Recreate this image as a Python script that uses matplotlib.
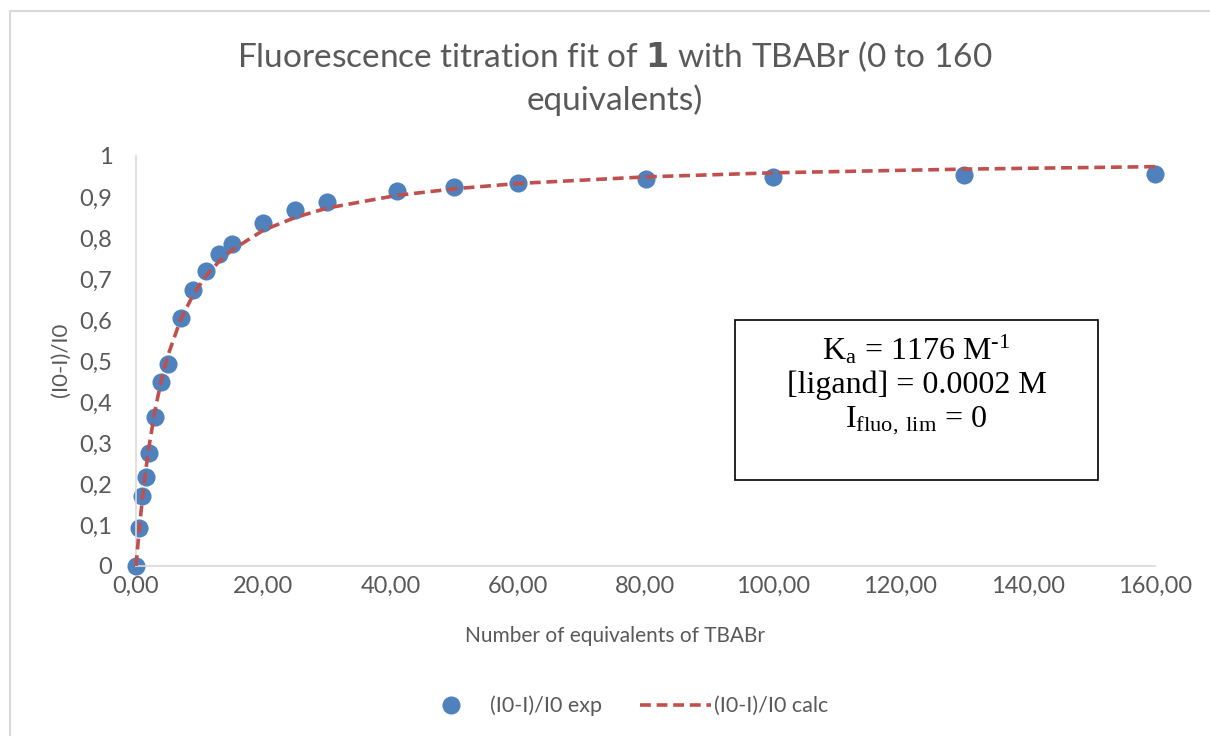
import matplotlib
matplotlib.use("Agg")
import matplotlib.pyplot as plt
from matplotlib.lines import Line2D

# equivalents of TBABr added
equiv = [0, 0.5, 1, 1.5, 2, 3, 4, 5, 7, 9, 11, 13, 15, 20, 25, 30, 41, 50, 60, 80, 100, 130, 160]
# experimental (I0-I)/I0
ratio_exp = [0.0, 0.093, 0.170, 0.218, 0.275, 0.364, 0.450, 0.493, 0.604, 0.673, 0.720,
             0.761, 0.785, 0.837, 0.868, 0.889, 0.915, 0.924, 0.934, 0.944, 0.949, 0.954, 0.956]
# fitted (I0-I)/I0
ratio_calc = [0.0, 0.088, 0.164, 0.230, 0.287, 0.381, 0.455, 0.513, 0.601, 0.662, 0.708,
              0.742, 0.770, 0.819, 0.850, 0.873, 0.904, 0.920, 0.933, 0.949, 0.959, 0.968, 0.974]

x_ticks = [0, 20, 40, 60, 80, 100, 120, 140, 160]
x_ticklabels = ["0,00", "20,00", "40,00", "60,00", "80,00", "100,00", "120,00", "140,00", "160,00"]
y_ticks = [0, 0.1, 0.2, 0.3, 0.4, 0.5, 0.6, 0.7, 0.8, 0.9, 1.0]
y_ticklabels = ["0", "0,1", "0,2", "0,3", "0,4", "0,5", "0,6", "0,7", "0,8", "0,9", "1"]

grey = "#595959"
sans = "Lato"
plt.rcParams["mathtext.default"] = "regular"

fig = plt.figure(figsize=(12.1, 7.36), dpi=100)
ax = fig.add_axes([136 / 1210, 1 - 566 / 736, (1155 - 136) / 1210, (566 - 156) / 736])

ax.plot(equiv, ratio_calc, ls=(0, (3, 1.6)), color="#c0504d", lw=2.6, zorder=3, clip_on=False)
ax.scatter(equiv, ratio_exp, s=170, color="#4f81bd", zorder=2, linewidths=0, clip_on=False)

ax.set_xlim(0, 160)
ax.set_ylim(0, 1)
ax.set_xticks(x_ticks)
ax.set_xticklabels(x_ticklabels)
ax.set_yticks(y_ticks)
ax.set_yticklabels(y_ticklabels)
ax.tick_params(length=0, labelsize=17, labelcolor=grey)
ax.tick_params(axis="x", pad=7)
ax.tick_params(axis="y", pad=17)
for lab in ax.get_xticklabels() + ax.get_yticklabels():
    lab.set_family(sans)
for side in ["top", "right"]:
    ax.spines[side].set_visible(False)
for side in ["left", "bottom"]:
    ax.spines[side].set_color("#d9d9d9")
    ax.spines[side].set_linewidth(1.2)

ax.set_xlabel("Number of equivalents of TBABr", fontsize=15, color=grey, family=sans)
ax.xaxis.set_label_coords((615 - 136) / (1155 - 136), -(626 - 566) / (566 - 156))
ax.set_ylabel("(I0-I)/I0", fontsize=16, color=grey, family=sans)
ax.yaxis.set_label_coords(-(136 - 71) / (1155 - 136), (566 - 360) / (566 - 156))

# title with bold "1"
fig.text(0.508, 1 - 57 / 736, r"Fluorescence titration fit of $\mathbf{1}$ with TBABr (0 to 160",
         ha="center", va="center", fontsize=24, color=grey, family=sans)
fig.text(0.508, 1 - 100 / 736, "equivalents)", ha="center", va="center", fontsize=24,
         color=grey, family=sans)

# annotation box
box_x0, box_y0, box_x1, box_y1 = 735, 320, 1098, 480
fig.patches.append(plt.Rectangle((box_x0 / 1210, 1 - box_y1 / 736), (box_x1 - box_x0) / 1210,
                                 (box_y1 - box_y0) / 736, transform=fig.transFigure,
                                 fill=False, edgecolor="black", lw=1.2))
serif = "Liberation Serif"
cx = (box_x0 + box_x1) / 2 / 1210
fig.text(cx, 1 - 350 / 736, "K$_{a}$ = 1176 M$^{\u20101}$", ha="center", va="center",
         fontsize=23, family=serif)
fig.text(cx, 1 - 385 / 736, "[ligand] = 0.0002 M", ha="center", va="center", fontsize=23, family=serif)
fig.text(cx, 1 - 421 / 736, r"I$_{fluo,\,lim}$ = 0", ha="center", va="center",
         fontsize=23, family=serif)

# legend
handles = [Line2D([], [], ls="none", marker="o", ms=12, color="#4f81bd"),
           Line2D([], [], ls=(0, (3, 1.6)), color="#c0504d", lw=2.6)]
fig.legend(handles, ["(I0-I)/I0 exp", "(I0-I)/I0 calc"], loc="center", bbox_to_anchor=(0.514, 1 - 706 / 736),
           ncol=2, frameon=False, prop={"family": sans, "size": 15.5}, labelcolor=grey,
           handlelength=3.3, columnspacing=1.75, handletextpad=0.15)

# chart area border (left and top edges visible)
fig.add_artist(Line2D([10 / 1210, 10 / 1210], [0, 1 - 11 / 736], transform=fig.transFigure, color="#d9d9d9", lw=1.5))
fig.add_artist(Line2D([10 / 1210, 1], [1 - 11 / 736, 1 - 11 / 736], transform=fig.transFigure, color="#d9d9d9", lw=1.5))

fig.savefig("out.png", dpi=100)
